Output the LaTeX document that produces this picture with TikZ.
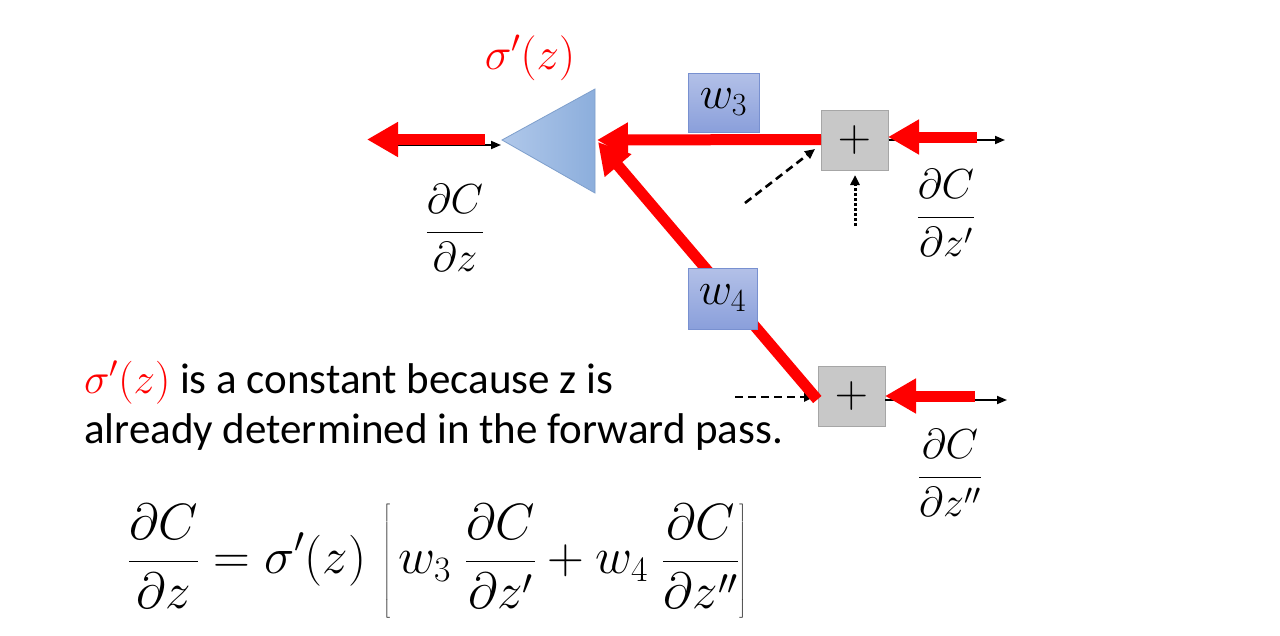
\RequirePackage{fix-cm}
\documentclass[tikz,border=0pt]{standalone}
\usepackage{fontspec}
\setmainfont{Carlito}
\usetikzlibrary{arrows.meta,shapes.geometric}
\definecolor{wfill}{HTML}{8A9FDB}
\definecolor{wdraw}{HTML}{7890D0}
\definecolor{pfill}{HTML}{C8C8C8}
\definecolor{pdraw}{HTML}{A6A6A6}
\definecolor{trilight}{HTML}{B0C8EA}
\definecolor{tridark}{HTML}{8CAEDC}
\definecolor{tridraw}{HTML}{7E9FCC}
\definecolor{bpred}{HTML}{FF0000}
\begin{document}
\begin{tikzpicture}[x=1pt,y=-1pt,
  bigred/.style={draw=bpred,line width=11pt,-{Triangle[length=31pt,width=33pt]}},
  thinarr/.style={draw=black,line width=1.8pt,-{Triangle[length=10pt,width=8pt]}},
  dasharr/.style={draw=black,line width=2.6pt,dash pattern=on 8pt off 5pt,-{Triangle[length=10pt,width=9pt]}},
  dotarr/.style={draw=black,line width=3pt,dash pattern=on 2.6pt off 2.4pt,-{Triangle[length=10pt,width=9pt]}},
  wbox/.style={draw=wdraw,line width=1pt,top color=wfill!65!white,bottom color=wfill,inner sep=0pt,font=\fontsize{46}{52}\selectfont},
  pbox/.style={draw=pdraw,line width=1pt,fill=pfill,minimum width=67pt,minimum height=60pt,inner sep=0pt,font=\fontsize{46}{52}\selectfont},
  frac/.style={inner sep=0pt,font=\fontsize{42}{50}\selectfont},
  txt/.style={inner sep=0pt,anchor=base west,font=\fontsize{43}{50}\selectfont}]
\useasboundingbox[fill=white] (0,0) rectangle (1280,635);

% triangle (neuron)
\coordinate (tritip) at (502,140);
\coordinate (tritop) at (595,89);
\coordinate (tribot) at (595,193);
\coordinate (triR) at (597,140);
\coordinate (triD) at (598,142);
\path[left color=trilight,right color=tridark,draw=tridraw,line width=0.8pt]
  (tritip) -- (tritop) -- (tribot) -- cycle;

% plus boxes
\node[pbox] (p1) at (854.5,140) {$+$};
\node[pbox] (p2) at (851.5,396) {$+$};

% forward (black) arrows
\coordinate (b0s) at (398,145);
\coordinate (b0e) at (501,145);
\draw[thinarr] (b0s) -- (b0e);
\coordinate (b1e) at (1005,140);
\draw[thinarr] (p1.east) -- (b1e);
\coordinate (b2s) at (885,400);
\coordinate (b2e) at (1007,400);
\draw[thinarr] (b2s) -- (b2e);

% dashed / dotted inputs
\coordinate (d1s) at (745,203);
\coordinate (d1e) at (815,149);
\draw[dasharr] (d1s) -- (d1e);
\coordinate (d2s) at (855,226);
\coordinate (d2e) at (855,175);
\draw[dotarr] (d2s) -- (d2e);
\coordinate (d3s) at (735,397);
\coordinate (d3e) at (814,397);
\draw[dasharr] (d3s) -- (d3e);

% backward (red) arrows
\coordinate (Ls) at (485,139.5);
\coordinate (Le) at (367,139.5);
\draw[bigred] (Ls) -- (Le);
\coordinate (r1s) at (977,137);
\coordinate (r1e) at (888,137);
\draw[bigred] (r1s) -- (r1e);
\coordinate (r2s) at (975,396);
\coordinate (r2e) at (885,396);
\draw[bigred] (r2s) -- (r2e);
\coordinate (p1w) at (821,139.5);
\draw[bigred] (p1w) -- (triR);
\coordinate (p2w) at (816,398);
\draw[bigred,shorten <=-2pt] (p2w) -- (triD);

% weight boxes
\node[wbox,minimum width=71pt,minimum height=59pt] (w3) at (723.5,102.5) {$w_3$};
\node[wbox,minimum width=69pt,minimum height=61pt] (w4) at (722.5,298.5) {$w_4$};

% labels
\node[inner sep=0pt,text=bpred,font=\fontsize{45}{52}\selectfont] (sig) at (530,58) {$\sigma'(z)$};
\node[frac] (fz) at (455,228) {$\displaystyle\frac{\partial C}{\partial z}$};
\node[frac] (fz1) at (946,213) {$\displaystyle\frac{\partial C}{\partial z'}$};
\node[frac] (fz2) at (950,473) {$\displaystyle\frac{\partial C}{\partial z''}$};

\node[txt] (t1) at (84,393) {\textcolor{bpred}{$\sigma'(z)$} is a constant because z is};
\node[txt] (t2) at (84,443) {already determined in the forward pass.};

\node[inner sep=0pt,anchor=west,font=\fontsize{51}{60}\selectfont] (eq) at (128,561)
  {$\displaystyle\frac{\partial C}{\partial z}=\sigma'(z)\,\left[\,w_3\;\frac{\partial C}{\partial z'}+w_4\;\frac{\partial C}{\partial z''}\right]$};
\end{tikzpicture}
\end{document}
